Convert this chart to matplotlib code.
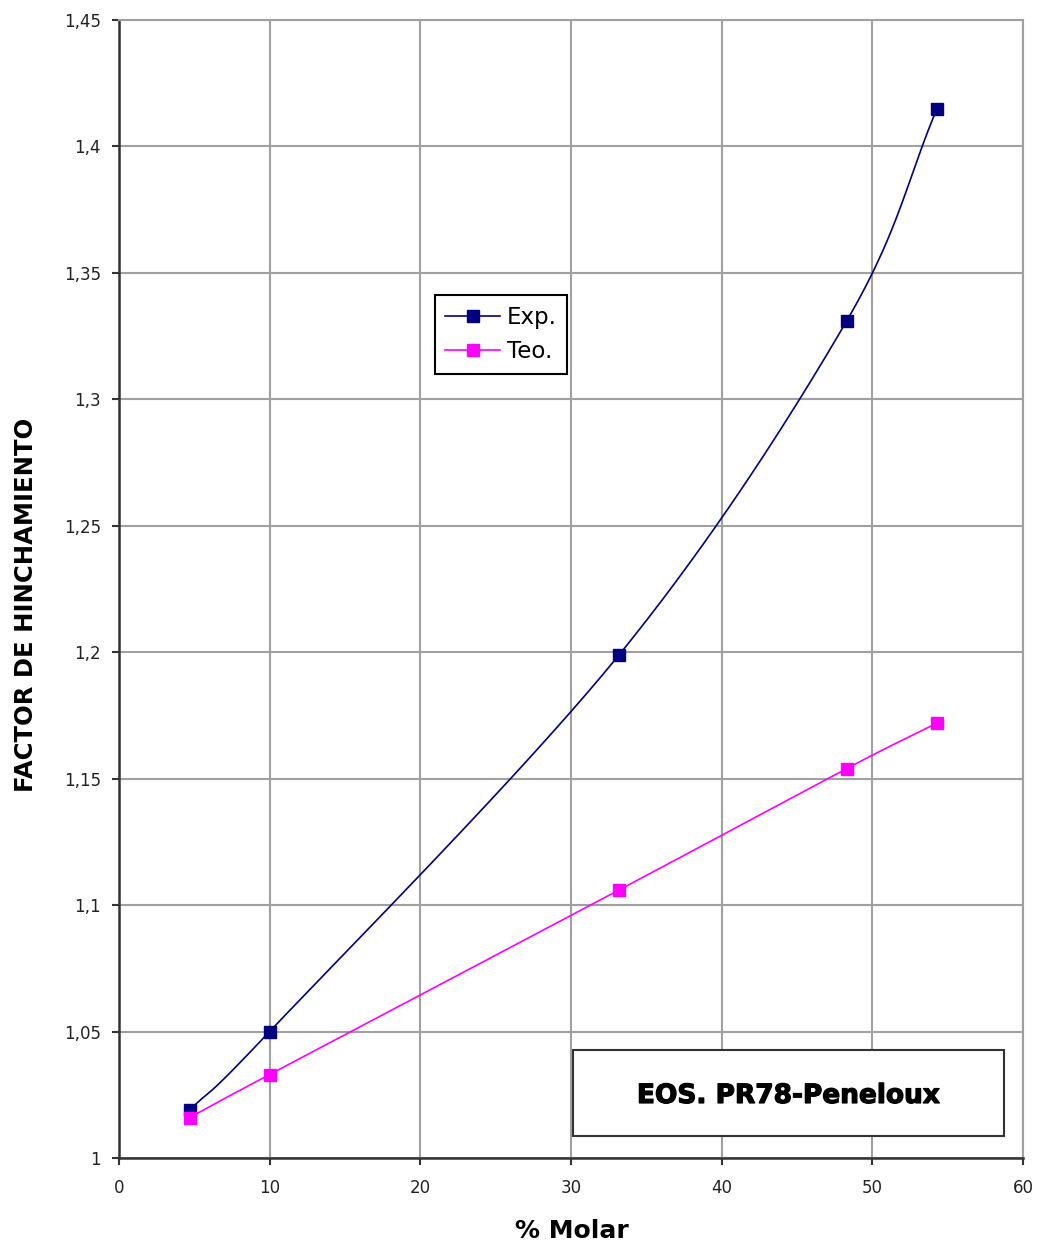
import numpy as np
import matplotlib
matplotlib.use("Agg")
import matplotlib.pyplot as plt
import matplotlib.patheffects as pe
from matplotlib.ticker import FuncFormatter
from matplotlib.lines import Line2D

plt.rcParams['font.family'] = ['DejaVu Sans']

# Data
molar = [4.7, 10.0, 33.2, 48.3, 54.3]
exp_vals = [1.019, 1.050, 1.199, 1.331, 1.415]
teo_vals = [1.016, 1.033, 1.106, 1.154, 1.172]
x_ticks = [0, 10, 20, 30, 40, 50, 60]
y_ticks = [1.0, 1.05, 1.1, 1.15, 1.2, 1.25, 1.3, 1.35, 1.4, 1.45]
series_names = ["Exp.", "Teo."]
box_text = "EOS. PR78-Peneloux"
x_label = "% Molar"
y_label = "FACTOR DE HINCHAMIENTO"


def smooth(xs, ys, n=40):
    """Catmull-Rom curve through the points (spreadsheet-style smoothed line)."""
    xs = np.asarray(xs, float)
    ys = np.asarray(ys, float)
    px = np.concatenate([[2 * xs[0] - xs[1]], xs, [2 * xs[-1] - xs[-2]]])
    py = np.concatenate([[2 * ys[0] - ys[1]], ys, [2 * ys[-1] - ys[-2]]])
    out_x, out_y = [], []
    t = np.linspace(0, 1, n)
    for i in range(1, len(px) - 2):
        for p, out in ((px, out_x), (py, out_y)):
            p0, p1, p2, p3 = p[i - 1], p[i], p[i + 1], p[i + 2]
            seg = 0.5 * ((2 * p1) + (-p0 + p2) * t
                         + (2 * p0 - 5 * p1 + 4 * p2 - p3) * t ** 2
                         + (-p0 + 3 * p1 - 3 * p2 + p3) * t ** 3)
            out.extend(seg)
    return np.array(out_x), np.array(out_y)


fig = plt.figure(figsize=(10.38, 12.45), dpi=100)
ax = fig.add_axes([0.1146, 0.0699, 0.8709, 0.9140])

navy = "#000080"
magenta = "#FF00FF"

for vals, col in ((exp_vals, navy), (teo_vals, magenta)):
    sx, sy = smooth(molar, vals)
    ax.plot(sx, sy, color=col, lw=1.2, zorder=3)
    ax.plot(molar, vals, ls="none", marker="s", ms=8, color=col, zorder=4)

ax.set_xlim(0, 60)
ax.set_ylim(1.0, 1.45)
ax.set_xticks(x_ticks)
ax.set_yticks(y_ticks)
ax.yaxis.set_major_formatter(FuncFormatter(lambda v, p: f"{v:g}".replace(".", ",")))
ax.grid(True, color="#a0a0a0", lw=1.5, zorder=0)
ax.set_axisbelow(True)

for side in ("top", "right"):
    ax.spines[side].set_color("#a0a0a0")
    ax.spines[side].set_linewidth(1.5)
for side in ("left", "bottom"):
    ax.spines[side].set_color("#333333")
    ax.spines[side].set_linewidth(1.8)

ax.tick_params(axis="both", direction="out", length=5, width=1.5,
               labelsize=12, colors="#333333", labelcolor="#222222")
ax.tick_params(axis="y", pad=8)
ax.tick_params(axis="x", pad=10)

ax.set_xlabel(x_label, fontsize=18, fontweight="bold", va="top")
ax.xaxis.set_label_coords(0.501, -0.054)
ax.set_ylabel(y_label, fontsize=17.5, fontweight="bold")
ax.yaxis.set_label_coords(-0.0896, 0.486)

handles = [
    Line2D([], [], color=navy, lw=1.2, marker="s", ms=8),
    Line2D([], [], color=magenta, lw=1.2, marker="s", ms=8),
]
leg = ax.legend(handles, series_names, loc="upper left",
                bbox_to_anchor=(0.3496, 0.758), fontsize=16.5, frameon=True,
                fancybox=False, edgecolor="black", framealpha=1,
                handlelength=2.4, handletextpad=0.3, borderpad=0.45,
                labelspacing=0.5, borderaxespad=0)
leg.get_frame().set_linewidth(1.5)

ax.text(0.7405, 0.0545, box_text, transform=ax.transAxes, ha="center",
        va="center", fontsize=19, fontweight="bold", zorder=6,
        path_effects=[pe.withStroke(linewidth=0.9, foreground="black")])
rect = plt.Rectangle((0.502, 0.0193), 0.477, 0.0756, transform=ax.transAxes,
                     facecolor="white", edgecolor="#333333", lw=1.5, zorder=5)
ax.add_patch(rect)

fig.savefig("out.png", dpi=100, facecolor="white")
